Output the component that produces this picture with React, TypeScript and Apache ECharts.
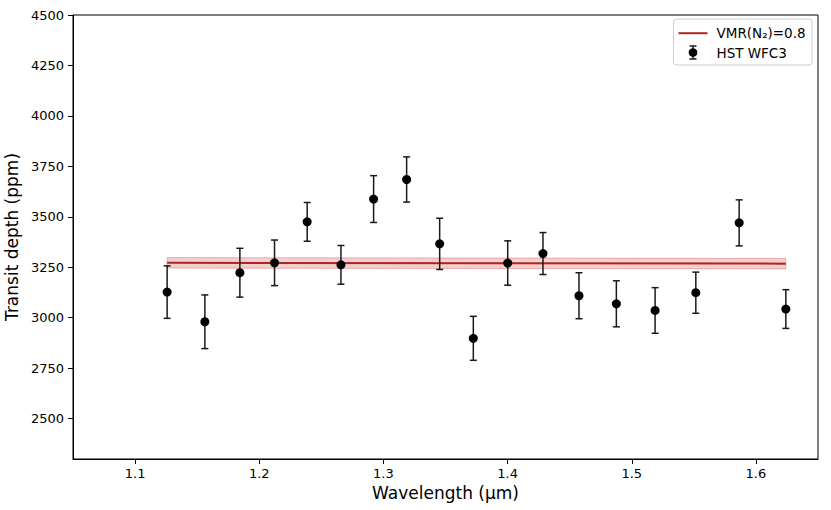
import React, { useEffect, useRef } from "react";
import * as echarts from "echarts";

const wavelengths = [1.1258, 1.1562, 1.1844, 1.2123, 1.2386, 1.2658, 1.2921, 1.3187, 1.3453, 1.3724, 1.4001, 1.4285, 1.4575, 1.4876, 1.5188, 1.5516, 1.5865, 1.6241];
const depths = [3127, 2980, 3223, 3272, 3475, 3262, 3588, 3685, 3366, 2898, 3271, 3318, 3109, 3069, 3036, 3124, 3470, 3043];
const errors = [130, 133, 121, 113, 96, 96, 116, 112, 127, 109, 110, 104, 114, 114, 113, 102, 114, 96];

const modelX = [1.1258, 1.6241];
const modelY = [3272, 3268];
const modelBand = [26, 26];

const xTicks = [1.1, 1.2, 1.3, 1.4, 1.5, 1.6];
const yTicks = [2500, 2750, 3000, 3250, 3500, 3750, 4000, 4250, 4500];

const FONT = "DejaVu Sans";

export default function App() {
  const ref = useRef<HTMLDivElement>(null);
  useEffect(() => {
    if (!ref.current) return;
    const chart = echarts.init(ref.current, undefined, { renderer: "svg" });
    const option: any = {
      animation: false,
      backgroundColor: "#fff",
      textStyle: { fontFamily: FONT },
      grid: {
        left: 73, right: 13, top: 15, bottom: 51,
        containLabel: false, outerBoundsMode: "none",
        show: true, borderColor: "#000", borderWidth: 1, backgroundColor: "transparent",
      },
      xAxis: {
        type: "value",
        min: 1.05,
        max: 1.65,
        name: "Wavelength (µm)",
        nameLocation: "middle",
        nameGap: 25,
        nameTextStyle: { fontSize: 17, color: "#000", fontFamily: FONT },
        axisLine: { show: true, lineStyle: { color: "#000", width: 1 } },
        axisTick: { show: true, length: 5, lineStyle: { color: "#000" }, customValues: xTicks },
        axisLabel: { color: "#000", fontSize: 13, fontFamily: FONT, margin: 8, customValues: xTicks, formatter: (v: number) => v.toFixed(1) },
        splitLine: { show: false },
      },
      yAxis: {
        type: "value",
        min: 2300,
        max: 4500,
        name: "Transit depth (ppm)",
        nameLocation: "middle",
        nameGap: 49,
        nameTextStyle: { fontSize: 17, color: "#000", fontFamily: FONT },
        axisLine: { show: true, lineStyle: { color: "#000", width: 1 } },
        axisTick: { show: true, length: 5, lineStyle: { color: "#000" }, customValues: yTicks },
        axisLabel: { color: "#000", fontSize: 13, fontFamily: FONT, margin: 9, customValues: yTicks, formatter: (v: number) => String(v) },
        splitLine: { show: false },
      },
      series: [
        {
          type: "custom",
          name: "band",
          z: 1,
          data: [0],
          renderItem: (params: any, api: any) => {
            const upper = modelX.map((x, i) => api.coord([x, modelY[i] + modelBand[i]]));
            const lower = modelX.map((x, i) => api.coord([x, modelY[i] - modelBand[i]])).reverse();
            return {
              type: "polygon",
              shape: { points: upper.concat(lower) },
              style: { fill: "rgba(200,40,40,0.22)", stroke: "rgba(200,40,40,0.3)", lineWidth: 1 },
            };
          },
        },
        {
          type: "line",
          name: "VMR(N₂)=0.8",
          z: 2,
          data: modelX.map((x, i) => [x, modelY[i]]),
          symbol: "none",
          lineStyle: { color: "#b22222", width: 2 },
        },
        {
          type: "custom",
          name: "errors",
          z: 3,
          data: wavelengths.map((w, i) => [w, depths[i] - errors[i], depths[i] + errors[i]]),
          renderItem: (params: any, api: any) => {
            const x = api.value(0);
            const lo = api.coord([x, api.value(1)]);
            const hi = api.coord([x, api.value(2)]);
            const cw = 3.5;
            const style = { stroke: "#1a1a1a", lineWidth: 1.5 };
            return {
              type: "group",
              children: [
                { type: "line", shape: { x1: lo[0], y1: lo[1], x2: hi[0], y2: hi[1] }, style },
                { type: "line", shape: { x1: lo[0] - cw, y1: lo[1], x2: lo[0] + cw, y2: lo[1] }, style },
                { type: "line", shape: { x1: hi[0] - cw, y1: hi[1], x2: hi[0] + cw, y2: hi[1] }, style },
              ],
            };
          },
        },
        {
          type: "scatter",
          name: "HST WFC3",
          z: 4,
          data: wavelengths.map((w, i) => [w, depths[i]]),
          symbol: "circle",
          symbolSize: 9,
          itemStyle: { color: "#000", opacity: 1 },
        },
      ],
      graphic: [
        {
          type: "group",
          left: 673,
          top: 18.5,
          children: [
            { type: "rect", shape: { x: 0, y: 0, width: 138.5, height: 46, r: 3 }, style: { fill: "rgba(255,255,255,0.8)", stroke: "#cccccc", lineWidth: 1 } },
            { type: "line", shape: { x1: 5, y1: 14.2, x2: 34, y2: 14.2 }, style: { stroke: "#b22222", lineWidth: 2 } },
            { type: "text", x: 43, y: 14, style: { text: "VMR(N₂)=0.8", fontSize: 13.5, fontFamily: FONT, fill: "#000", verticalAlign: "middle", align: "left" } },
            { type: "line", shape: { x1: 19.5, y1: 27, x2: 19.5, y2: 40 }, style: { stroke: "#1a1a1a", lineWidth: 1.5 } },
            { type: "line", shape: { x1: 16, y1: 27, x2: 23, y2: 27 }, style: { stroke: "#1a1a1a", lineWidth: 1.5 } },
            { type: "line", shape: { x1: 16, y1: 40, x2: 23, y2: 40 }, style: { stroke: "#1a1a1a", lineWidth: 1.5 } },
            { type: "circle", shape: { cx: 19.5, cy: 33.5, r: 4.3 }, style: { fill: "#000" } },
            { type: "text", x: 43, y: 33.5, style: { text: "HST WFC3", fontSize: 13.5, fontFamily: FONT, fill: "#000", verticalAlign: "middle", align: "left" } },
          ],
        },
      ],
    };
    chart.setOption(option);
    return () => chart.dispose();
  }, []);
  return <div ref={ref} style={{ position: "fixed", left: 0, top: 0, width: 831, height: 510 }} />;
}
